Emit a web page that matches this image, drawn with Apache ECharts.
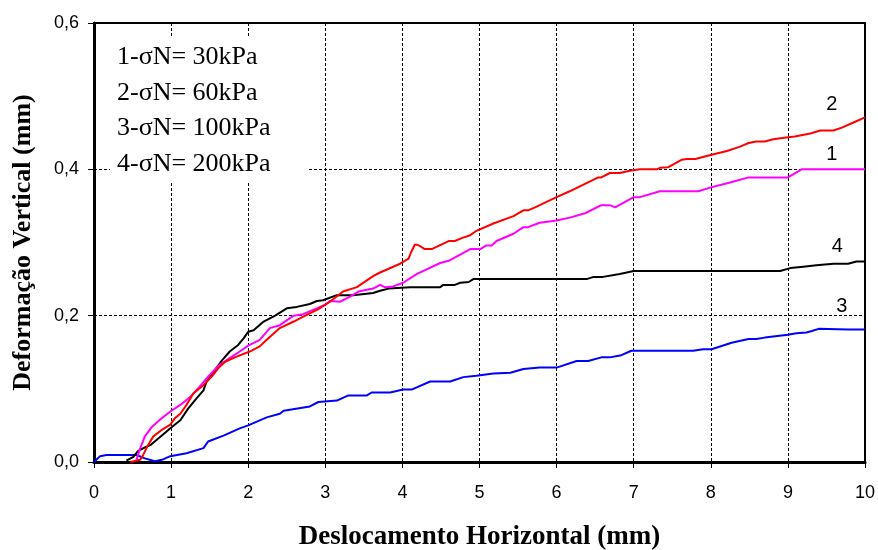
<!DOCTYPE html>
<html>
<head>
<meta charset="utf-8">
<script src="https://cdn.jsdelivr.net/npm/echarts@6/dist/echarts.min.js"></script>
<style>html,body{margin:0;padding:0;background:#fff}#c{width:878px;height:550px}</style>
</head>
<body>
<div id="c"></div>
<script>
// Tick labels
const xTicks = [0,1,2,3,4,5,6,7,8,9,10];
const yTicks = ['0,0','0,2','0,4','0,6'];
const legendLines = ['1-σN= 30kPa','2-σN= 60kPa','3-σN= 100kPa','4-σN= 200kPa'];
const curveNames = ['1','2','3','4'];

// Series 1 (σN = 30 kPa) [x mm, y mm]
const s1 = [[0.55,0.003],[0.6,0.019],[0.66,0.035],[0.75,0.048],[0.88,0.06],[0.99,0.069],[1.12,0.078],[1.25,0.089],[1.37,0.103],[1.5,0.119],[1.61,0.131],[1.76,0.142],[1.89,0.151],[2.0,0.159],[2.15,0.167],[2.28,0.183],[2.41,0.187],[2.59,0.2],[2.71,0.202],[2.89,0.21],[3.0,0.215],[3.06,0.22],[3.19,0.219],[3.32,0.226],[3.43,0.233],[3.62,0.237],[3.71,0.242],[3.77,0.239],[3.88,0.24],[4.01,0.245],[4.19,0.257],[4.49,0.272],[4.6,0.275],[4.88,0.291],[5.01,0.291],[5.09,0.296],[5.16,0.296],[5.22,0.302],[5.44,0.312],[5.57,0.321],[5.63,0.321],[5.78,0.327],[6.0,0.33],[6.17,0.334],[6.37,0.34],[6.58,0.351],[6.69,0.351],[6.76,0.348],[7.0,0.362],[7.08,0.362],[7.34,0.37],[7.84,0.37],[7.99,0.375],[8.25,0.382],[8.49,0.389],[9.0,0.389],[9.18,0.4],[10,0.4]];

// Series 2 (σN = 60 kPa)
const s2 = [[0.47,0],[0.6,0.003],[0.64,0.01],[0.7,0.023],[0.77,0.035],[0.88,0.044],[0.99,0.051],[1.05,0.06],[1.12,0.066],[1.2,0.078],[1.29,0.094],[1.42,0.105],[1.53,0.117],[1.61,0.128],[1.7,0.137],[1.85,0.144],[2.02,0.151],[2.15,0.158],[2.24,0.167],[2.41,0.183],[2.59,0.192],[2.74,0.2],[2.91,0.209],[3.06,0.219],[3.23,0.233],[3.41,0.239],[3.62,0.254],[3.71,0.259],[3.97,0.271],[4.08,0.278],[4.11,0.286],[4.16,0.297],[4.19,0.297],[4.23,0.295],[4.29,0.291],[4.38,0.291],[4.6,0.302],[4.68,0.302],[4.77,0.306],[4.88,0.31],[4.96,0.316],[5.18,0.326],[5.44,0.336],[5.57,0.344],[5.63,0.344],[5.72,0.348],[6.0,0.362],[6.17,0.37],[6.54,0.389],[6.58,0.389],[6.69,0.395],[6.82,0.395],[6.95,0.398],[7.08,0.4],[7.3,0.4],[7.34,0.402],[7.45,0.403],[7.62,0.413],[7.69,0.414],[7.8,0.414],[8.01,0.42],[8.21,0.425],[8.38,0.431],[8.49,0.436],[8.59,0.438],[8.7,0.438],[8.81,0.441],[9.0,0.444],[9.09,0.445],[9.29,0.449],[9.42,0.453],[9.59,0.453],[9.7,0.457],[9.85,0.464],[10,0.471]];

// Series 3 (σN = 100 kPa)
const s3 = [[0,0],[0.04,0.004],[0.08,0.008],[0.16,0.0096],[0.55,0.0096],[0.66,0.005],[0.79,0.001],[0.88,0.003],[0.99,0.008],[1.2,0.012],[1.42,0.019],[1.48,0.028],[1.68,0.036],[1.89,0.046],[2.0,0.05],[2.24,0.061],[2.41,0.066],[2.46,0.07],[2.8,0.076],[2.91,0.082],[3.15,0.084],[3.3,0.091],[3.54,0.091],[3.6,0.095],[3.84,0.095],[4.01,0.099],[4.12,0.099],[4.36,0.11],[4.62,0.11],[4.79,0.116],[4.96,0.118],[5.18,0.121],[5.4,0.122],[5.57,0.127],[5.78,0.129],[6.0,0.129],[6.26,0.138],[6.41,0.138],[6.58,0.143],[6.69,0.143],[6.84,0.146],[6.97,0.152],[7.77,0.152],[7.9,0.154],[8.01,0.154],[8.27,0.163],[8.49,0.168],[8.59,0.168],[8.7,0.17],[9.0,0.174],[9.11,0.176],[9.24,0.177],[9.31,0.179],[9.4,0.182],[9.78,0.181],[10,0.181]];

// Series 4 (σN = 200 kPa)
const s4 = [[0.42,0.002],[0.51,0.007],[0.57,0.015],[0.66,0.02],[0.73,0.023],[0.81,0.03],[0.9,0.038],[0.99,0.046],[1.12,0.057],[1.22,0.073],[1.33,0.087],[1.42,0.098],[1.46,0.11],[1.57,0.126],[1.66,0.139],[1.76,0.151],[1.87,0.16],[1.94,0.169],[2.0,0.178],[2.07,0.18],[2.2,0.192],[2.35,0.2],[2.5,0.21],[2.63,0.212],[2.8,0.216],[2.89,0.22],[2.97,0.221],[3.15,0.228],[3.36,0.228],[3.62,0.231],[3.71,0.234],[3.82,0.237],[4.1,0.239],[4.49,0.239],[4.53,0.242],[4.68,0.242],[4.75,0.245],[4.86,0.246],[4.92,0.25],[6.39,0.25],[6.48,0.253],[6.6,0.253],[6.82,0.257],[7.0,0.261],[8.9,0.261],[9.03,0.265],[9.2,0.267],[9.37,0.269],[9.59,0.271],[9.78,0.271],[9.89,0.274],[10,0.274]];

const chart = echarts.init(document.getElementById('c'), null, {renderer:'canvas'});
const serif = '"Liberation Serif","Times New Roman",serif';
const sans = '"Liberation Sans",Arial,sans-serif';

function labelPoint(name, x, y) {
  return {
    symbol: 'circle', symbolSize: 0,
    label: {show: true, formatter: name, fontFamily: sans, fontSize: 20, color: '#000', position: 'inside'},
    data: [{coord: [x, y]}]
  };
}
function mkSeries(data, color, z, mp) {
  return {type:'line', data: data, showSymbol:false, symbol:'none', animation:false,
    lineStyle:{color: color, width: 2}, z: z, markPoint: mp};
}

const legendGraphics = [{
  type: 'rect', left: 110, top: 36, z: 50, silent: true,
  shape: {width: 198, height: 146}, style: {fill: '#fff'}
}].concat(legendLines.map((t, i) => ({
  type: 'text', left: 117, top: 44 + i * 35.8, z: 100,
  style: {text: t, fontFamily: serif, fontSize: 26, fill: '#000'}
})));

chart.setOption({
  animation: false,
  grid: {left: 94, right: 13, top: 23, bottom: 88, show: true, borderColor: '#000', borderWidth: 2,
    containLabel: false, outerBoundsMode: 'none'},
  xAxis: {
    type: 'value', min: 0, max: 10, interval: 1,
    name: 'Deslocamento Horizontal (mm)', nameLocation: 'middle', nameGap: 62,
    nameTextStyle: {fontFamily: serif, fontWeight: 'bold', fontSize: 27, color: '#000'},
    axisLine: {show: true, onZero: false, lineStyle: {color: '#000', width: 3}},
    axisTick: {show: true, length: 6, lineStyle: {color: '#000', width: 1}},
    axisLabel: {margin: 22, fontFamily: sans, fontSize: 18, color: '#000',
      formatter: v => String(xTicks[Math.round(v)])},
    splitLine: {show: true, lineStyle: {color: '#000', width: 1, type: [3, 2]}}
  },
  yAxis: {
    type: 'value', min: 0, max: 0.6, interval: 0.2,
    name: 'Deformação Vertical (mm)', nameLocation: 'middle', nameGap: 58,
    nameTextStyle: {fontFamily: serif, fontWeight: 'bold', fontSize: 26, color: '#000'},
    axisLine: {show: true, lineStyle: {color: '#000', width: 3}},
    axisTick: {show: true, length: 6, lineStyle: {color: '#000', width: 1}},
    axisLabel: {margin: 15, fontFamily: sans, fontSize: 18, color: '#000',
      formatter: v => yTicks[Math.round(v / 0.2)]},
    splitLine: {show: true, lineStyle: {color: '#000', width: 1, type: [3, 2]}}
  },
  series: [
    mkSeries(s3, '#0000ff', 3, labelPoint(curveNames[2], 9.70, 0.212)),
    mkSeries(s4, '#000000', 4, labelPoint(curveNames[3], 9.64, 0.294)),
    mkSeries(s1, '#ff00ff', 5, labelPoint(curveNames[0], 9.57, 0.42)),
    mkSeries(s2, '#ff0000', 6, labelPoint(curveNames[1], 9.57, 0.489))
  ],
  graphic: legendGraphics
});
</script>
</body>
</html>
